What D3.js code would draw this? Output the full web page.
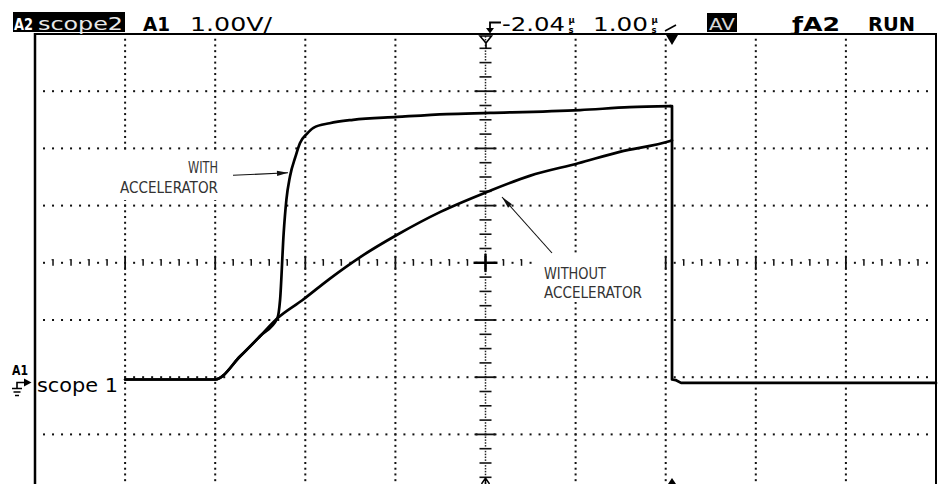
<!DOCTYPE html>
<html><head><meta charset="utf-8">
<script src="https://cdn.jsdelivr.net/npm/d3@7"></script>
<style>html,body{margin:0;padding:0;background:#fff;} svg{display:block}</style>
</head><body>
<svg id="c" width="940" height="484"></svg>
<script>
// ---------- data (time in µs from screen centre, volts) ----------
const timeWith    = [-4.0,-3.0,-2.72,-2.50,-2.31,-2.28,-2.24,-2.21,-2.17,-2.11,-2.06,-1.98,-1.91,-1.73,-1.47,-0.98,-0.43,0.05,1.05,1.60,2.05];
const voltsWith   = [-2.04,-2.04,-1.63,-1.28,-0.97,-0.65,0.52,1.10,1.51,1.85,2.09,2.26,2.36,2.44,2.50,2.55,2.60,2.62,2.67,2.72,2.74];
const timeWithout = [-4.0,-3.0,-2.72,-2.50,-2.31,-2.03,-1.73,-1.39,-0.98,-0.50,0.02,0.49,1.03,1.49,2.05,2.07];
const voltsWithout= [-2.04,-2.04,-1.63,-1.28,-0.97,-0.65,-0.28,0.10,0.49,0.89,1.24,1.52,1.74,1.94,2.13,2.14];
const timeFall    = [2.05,2.07,2.07,2.11,2.17,5.0];
const voltsFall   = [2.74,2.74,-2.04,-2.05,-2.10,-2.10];

const headerLeft  = ["A2","scope2","A1","1.00V/"];
const headerRight = ["-2.04","1.00","AV","ƒA2","RUN"];
const unitStack   = ["µ","s"];
const annotations = [["WITH","ACCELERATOR"],["WITHOUT","ACCELERATOR"]];
const channelLabel = ["A1","scope 1"];

// ---------- scales ----------
const svg = d3.select("#c");
const DIV_Y = 57.2;
const x = d3.scaleLinear().domain([-5,5]).range([35,936]);
const y = d3.scaleLinear().domain([4,-4]).range([34,34+8*DIV_Y]);
const x0 = x(0), y0 = y(0);

// ---------- grid ----------
const g = svg.append("g");
const hLines = [3,2,1,-1,-2,-3];
const vLines = [-4,-3,-2,-1,1,2,3,4];
const fineT = d3.range(-49,50).map(k=>k/10);
const fineV = d3.range(-39,40).map(k=>k/10);
hLines.forEach(v=>{
  g.selectAll(null).data(fineT).enter().append("rect")
   .attr("x",t=>x(t)-1).attr("y",y(v)-1).attr("width",2).attr("height",2).attr("fill","#111");
});
vLines.forEach(t=>{
  g.selectAll(null).data(fineV).enter().append("rect")
   .attr("x",x(t)-1).attr("y",v=>y(v)-1).attr("width",2).attr("height",2).attr("fill","#111");
});
// centre horizontal axis
d3.range(-49,50).forEach(k=>{
  const t=k/10, px=x(t);
  if(k%10===0){ g.append("line").attr("x1",px).attr("x2",px).attr("y1",y0-7).attr("y2",y0+7).attr("stroke","#111").attr("stroke-width",1.8); }
  else if(k%2===0){ g.append("line").attr("x1",px).attr("x2",px).attr("y1",y0-3.5).attr("y2",y0+3).attr("stroke","#111").attr("stroke-width",1.5);
    g.append("line").attr("x1",px-1.5).attr("x2",px+0.5).attr("y1",y0-3).attr("y2",y0-3).attr("stroke","#111").attr("stroke-width",1); }
  else { g.append("rect").attr("x",px-1).attr("y",y0-1).attr("width",2).attr("height",2).attr("fill","#111"); }
});
// centre vertical axis
d3.range(-79,80).forEach(k=>{
  const v=k/20, py=y(v);
  if(k%20===0){ g.append("line").attr("x1",x0-11).attr("x2",x0+11).attr("y1",py).attr("y2",py).attr("stroke","#111").attr("stroke-width",1.8); }
  else if(k%5===0){ g.append("line").attr("x1",x0-6).attr("x2",x0+6).attr("y1",py).attr("y2",py).attr("stroke","#111").attr("stroke-width",1.6); }
  else { g.append("rect").attr("x",x0-0.75).attr("y",py-0.75).attr("width",1.5).attr("height",1.5).attr("fill","#222"); }
});
g.append("line").attr("x1",x0-12).attr("x2",x0+12).attr("y1",y0).attr("y2",y0).attr("stroke","#000").attr("stroke-width",2.4);
g.append("line").attr("x1",x0).attr("x2",x0).attr("y1",y0-9).attr("y2",y0+9).attr("stroke","#000").attr("stroke-width",2.4);

// ---------- label backgrounds ----------
svg.append("rect").attr("x",117).attr("y",153).attr("width",104).attr("height",47).attr("fill","#fff");
svg.append("rect").attr("x",538).attr("y",255).attr("width",125).attr("height",47).attr("fill","#fff");
svg.append("rect").attr("x",36).attr("y",369).attr("width",84).attr("height",30).attr("fill","#fff");

// ---------- frame ----------
svg.append("line").attr("x1",34).attr("x2",936.5).attr("y1",34).attr("y2",34).attr("stroke","#000").attr("stroke-width",2);
svg.append("line").attr("x1",35).attr("x2",35).attr("y1",33).attr("y2",484).attr("stroke","#000").attr("stroke-width",2.5);
svg.append("line").attr("x1",936).attr("x2",936).attr("y1",33).attr("y2",484).attr("stroke","#000").attr("stroke-width",2);

// ---------- traces ----------
const smooth = d3.line().x(d=>x(d[0])).y(d=>y(d[1])).curve(d3.curveMonotoneX);
const straight = d3.line().x(d=>x(d[0])).y(d=>y(d[1]));
const traces = svg.append("g").attr("fill","none").attr("stroke","#000").attr("stroke-linejoin","round").attr("stroke-linecap","round");
traces.append("path").attr("d",smooth(d3.zip(timeWithout,voltsWithout))).attr("stroke-width",2.7);
traces.append("path").attr("d",smooth(d3.zip(timeWith,voltsWith))).attr("stroke-width",2.7);
traces.append("path").attr("d",straight(d3.zip(timeFall,voltsFall))).attr("stroke-width",2.7);

// ---------- annotations ----------
const annFont = "'Liberation Sans Narrow','Arial Narrow','DejaVu Sans Condensed',sans-serif";
const a1 = svg.append("g").attr("font-family",annFont).attr("font-size",16.5).attr("fill","#333").attr("text-anchor","end");
a1.append("text").attr("x",218).attr("y",173).attr("textLength",30).attr("lengthAdjust","spacingAndGlyphs").text(annotations[0][0]);
a1.append("text").attr("x",218).attr("y",193).attr("textLength",98).attr("lengthAdjust","spacingAndGlyphs").text(annotations[0][1]);
const a2 = svg.append("g").attr("font-family",annFont).attr("font-size",16.5).attr("fill","#333");
a2.append("text").attr("x",544).attr("y",278.5).attr("textLength",62).attr("lengthAdjust","spacingAndGlyphs").text(annotations[1][0]);
a2.append("text").attr("x",544).attr("y",298).attr("textLength",98).attr("lengthAdjust","spacingAndGlyphs").text(annotations[1][1]);

function arrow(xa,ya,xb,yb,len,wid){
  svg.append("line").attr("x1",xa).attr("y1",ya).attr("x2",xb).attr("y2",yb).attr("stroke","#111").attr("stroke-width",1.1);
  const ang=Math.atan2(yb-ya,xb-xa), c=Math.cos(ang), s=Math.sin(ang);
  const bx=xb-len*c, by=yb-len*s;
  svg.append("polygon").attr("points",[[xb,yb],[bx-wid*s,by+wid*c],[bx+wid*s,by-wid*c]].map(p=>p.join(",")).join(" ")).attr("fill","#111");
}
arrow(233,175.3,288,172.8,11,2.6);
arrow(552,253,502,197,12,2.6);

// ---------- header ----------
const hdr = svg.append("g").attr("font-family","'DejaVu Sans',sans-serif");
hdr.append("rect").attr("x",13).attr("y",12).attr("width",112).attr("height",20).attr("fill","#000");
hdr.append("text").attr("x",14).attr("y",30).attr("font-size",16).attr("font-weight","bold").attr("fill","#fff").attr("textLength",19).attr("lengthAdjust","spacingAndGlyphs").text(headerLeft[0]);
hdr.append("text").attr("x",38).attr("y",30).attr("font-size",18).attr("fill","#e8e8e8").attr("textLength",85).attr("lengthAdjust","spacingAndGlyphs").text(headerLeft[1]);
hdr.append("text").attr("x",143).attr("y",31).attr("font-size",19).attr("font-weight","bold").attr("textLength",27).attr("lengthAdjust","spacingAndGlyphs").text(headerLeft[2]);
hdr.append("text").attr("x",190).attr("y",31).attr("font-size",19).attr("textLength",82).attr("lengthAdjust","spacingAndGlyphs").text(headerLeft[3]);
// trigger glyph
hdr.append("path").attr("d","M501,22.5 H490 V31").attr("fill","none").attr("stroke","#000").attr("stroke-width",1.8);
hdr.append("polygon").attr("points","486,28 494,28 490,33.5").attr("fill","#000");
// values with stacked µ/s unit
[[502,63,568.5,headerRight[0]],[593,55,651.5,headerRight[1]]].forEach(([px,len,ux,label])=>{
  hdr.append("text").attr("x",px).attr("y",31).attr("font-size",19).attr("textLength",len).attr("lengthAdjust","spacingAndGlyphs").text(label);
  hdr.append("text").attr("x",ux).attr("y",22.5).attr("font-size",8.5).attr("font-weight","bold").text(unitStack[0]);
  hdr.append("text").attr("x",ux).attr("y",33).attr("font-size",8.5).attr("font-weight","bold").text(unitStack[1]);
});
hdr.append("line").attr("x1",665).attr("y1",31).attr("x2",676).attr("y2",25).attr("stroke","#000").attr("stroke-width",1.6);
hdr.append("rect").attr("x",707).attr("y",13).attr("width",30).attr("height",19).attr("fill","#000");
hdr.append("text").attr("x",709).attr("y",30).attr("font-size",16).attr("fill","#d8d8d8").attr("textLength",26).attr("lengthAdjust","spacingAndGlyphs").text(headerRight[2]);
hdr.append("text").attr("x",792).attr("y",31).attr("font-size",19).attr("font-weight","bold").attr("textLength",48).attr("lengthAdjust","spacingAndGlyphs").text(headerRight[3]);
hdr.append("text").attr("x",868).attr("y",31).attr("font-size",19).attr("font-weight","bold").attr("textLength",47).attr("lengthAdjust","spacingAndGlyphs").text(headerRight[4]);

// ---------- markers ----------
svg.append("path").attr("d",`M${x0-5.5},36 L${x0+0.5},43 L${x0+6},36 Z M${x0+0.5},43 V49`).attr("fill","none").attr("stroke","#000").attr("stroke-width",1.6);
const tp = x(timeFall[1]);
svg.append("polygon").attr("points",`${tp-6},35 ${tp+6},35 ${tp},45`).attr("fill","#000");
svg.append("polygon").attr("points",`${tp-4},484 ${tp+4},484 ${tp},478`).attr("fill","#000");
svg.append("path").attr("d",`M${x0-4},484 L${x0},478 L${x0+4},484 M${x0},478 V484`).attr("fill","none").attr("stroke","#000").attr("stroke-width",1.5);

// ---------- channel label ----------
const yBase = y(voltsWith[0]);
svg.append("text").attr("x",12).attr("y",yBase-4).attr("font-family","'DejaVu Sans',sans-serif").attr("font-size",14).attr("font-weight","bold").attr("textLength",16).attr("lengthAdjust","spacingAndGlyphs").text(channelLabel[0]);
svg.append("text").attr("x",37).attr("y",yBase+12.5).attr("font-family","'DejaVu Sans',sans-serif").attr("font-size",19).attr("textLength",81).attr("lengthAdjust","spacingAndGlyphs").text(channelLabel[1]);
const ga = yBase+3;
svg.append("path").attr("d",`M17,${ga+6} V${ga} H26 M12,${ga+6} H22 M13.5,${ga+9.5} H20.5 M15,${ga+13} H19`).attr("fill","none").attr("stroke","#000").attr("stroke-width",1.6);
svg.append("polygon").attr("points",`24,${ga-4} 31.5,${ga} 24,${ga+4}`).attr("fill","#000");
</script>
</body></html>
